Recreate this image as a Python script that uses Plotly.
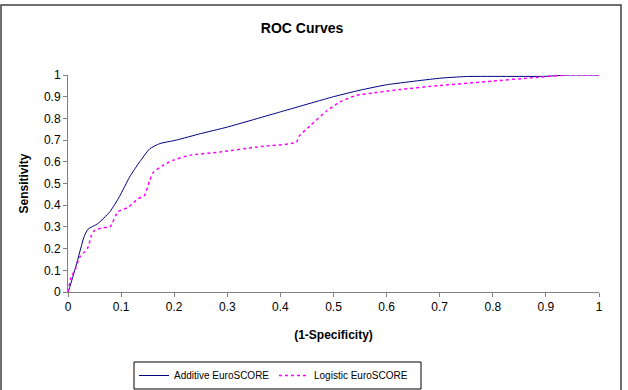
import plotly.graph_objects as go

# Data
add_x = [0, 0.003, 0.015, 0.031, 0.038, 0.056, 0.079, 0.097, 0.116, 0.135, 0.154, 0.173, 0.204, 0.25, 0.3, 0.4, 0.5, 0.55, 0.6, 0.7, 0.75, 0.9, 0.94, 1.0]
add_y = [0, 0.02, 0.12, 0.26, 0.29, 0.315, 0.37, 0.44, 0.53, 0.60, 0.66, 0.684, 0.70, 0.73, 0.76, 0.83, 0.9, 0.93, 0.955, 0.985, 0.993, 0.994, 1.0, 1.0]

log_x = [0, 0.006, 0.013, 0.022, 0.031, 0.038, 0.044, 0.05, 0.066, 0.079, 0.094, 0.113, 0.132, 0.144, 0.154, 0.16, 0.179, 0.198, 0.229, 0.286, 0.355, 0.43, 0.436, 0.455, 0.487, 0.512, 0.543, 0.574, 0.625, 0.7, 0.8, 0.876, 0.94, 1.0]
log_y = [0.0, 0.07, 0.1, 0.16, 0.184, 0.207, 0.26, 0.284, 0.297, 0.30, 0.37, 0.39, 0.43, 0.445, 0.515, 0.55, 0.584, 0.607, 0.63, 0.645, 0.668, 0.69, 0.72, 0.764, 0.834, 0.876, 0.906, 0.917, 0.933, 0.952, 0.972, 0.988, 1.0, 1.0]

tick_vals = [0, 0.1, 0.2, 0.3, 0.4, 0.5, 0.6, 0.7, 0.8, 0.9, 1]
tick_text = ["0", "0.1", "0.2", "0.3", "0.4", "0.5", "0.6", "0.7", "0.8", "0.9", "1"]

W, H = 628, 390
L, R, T, B = 68, 29, 75, 98
pw, ph = W - L - R, H - T - B

def px_x(p):
    return (p - L) / pw

def px_y(p):
    return (H - B - p) / ph

fig = go.Figure()
fig.add_trace(go.Scatter(x=add_x, y=add_y, mode="lines", name="Additive EuroSCORE",
                         line=dict(color="#000080", width=1, shape="spline", smoothing=0.5)))
fig.add_trace(go.Scatter(x=log_x, y=log_y, mode="lines", name="Logistic EuroSCORE",
                         line=dict(color="#FF00FF", width=1.5, dash="dot", shape="spline", smoothing=0.5)))

font = "Liberation Sans, Arial, sans-serif"
axis_common = dict(range=[0, 1], tickvals=tick_vals, ticktext=tick_text, showgrid=False,
                   zeroline=False, showline=True, linecolor="#808080", linewidth=1,
                   ticks="outside", ticklen=4, tickcolor="#808080",
                   tickfont=dict(family=font, size=12, color="#000"))

fig.update_layout(
    width=W, height=H,
    margin=dict(l=L, r=R, t=T, b=B, autoexpand=False),
    paper_bgcolor="white", plot_bgcolor="white",
    font=dict(family=font, color="#000"),
    title=dict(text="<b>ROC Curves</b>", x=302 / W, xanchor="center", y=1 - 28 / H, yanchor="middle",
               font=dict(family=font, size=14)),
    xaxis=dict(**axis_common, title=dict(text="<b>(1-Specificity)</b>", font=dict(size=12), standoff=17)),
    yaxis=dict(**axis_common, title=dict(text="<b>Sensitivity</b>", font=dict(size=12), standoff=12)),
    showlegend=True,
    legend=dict(orientation="h", x=px_x(134), xanchor="left", y=px_y(361), yanchor="top",
                borderwidth=0, bgcolor="rgba(0,0,0,0)",
                font=dict(family=font, size=10), itemwidth=30, tracegroupgap=0,
                entrywidth=95),
    shapes=[dict(type="rect", xref="paper", yref="paper",
                 x0=px_x(1), x1=px_x(621), y0=px_y(392), y1=px_y(5),
                 line=dict(color="#404040", width=1.5), layer="below"),
            dict(type="rect", xref="paper", yref="paper",
                 x0=px_x(134), x1=px_x(421), y0=px_y(389), y1=px_y(362),
                 line=dict(color="#000", width=1), layer="below")],
)

fig.write_html("out.html")
